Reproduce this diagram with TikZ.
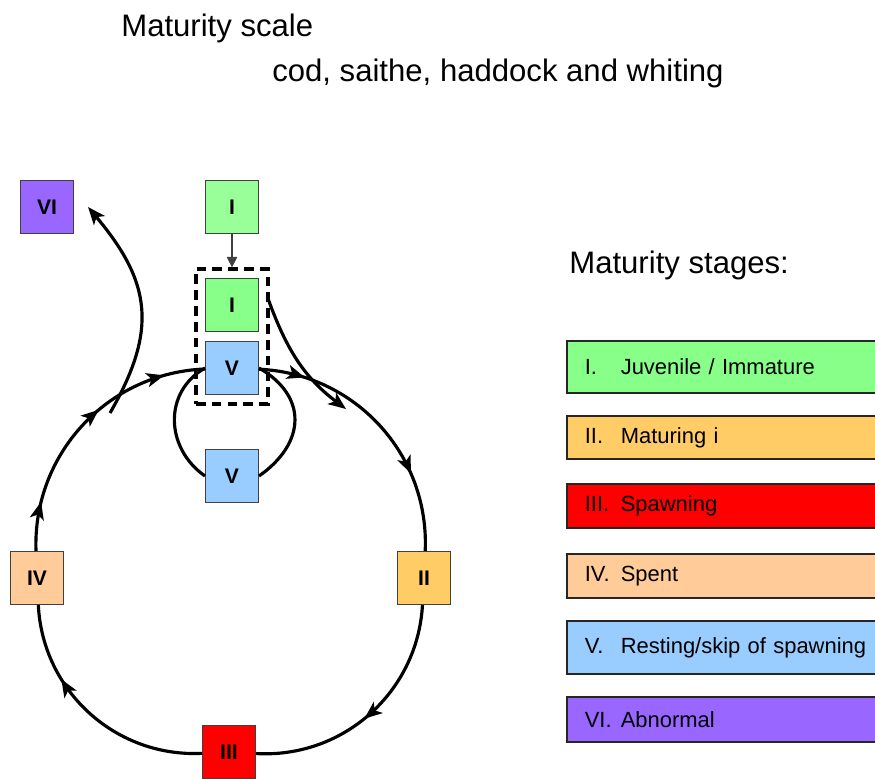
\documentclass[tikz,border=0pt]{standalone}
\usepackage{fontspec}
\setmainfont{Liberation Sans}
\usetikzlibrary{arrows.meta, decorations.markings, fit}

\definecolor{juvlight}{HTML}{99FF99}
\definecolor{juvgreen}{HTML}{88FF88}
\definecolor{restblue}{HTML}{99CCFF}
\definecolor{matorange}{HTML}{FFCC66}
\definecolor{spawnred}{HTML}{FF0000}
\definecolor{spentpeach}{HTML}{FFCC99}
\definecolor{abnpurple}{HTML}{9966FF}

\newcommand{\stagenum}[1]{\makebox[0.72cm][l]{#1}}

\begin{document}
\begin{tikzpicture}[x=0.02cm, y=0.02cm,
    stage/.style={draw=black!75, line width=0.6pt, minimum size=1.06cm, inner sep=0pt, font=\fontsize{12}{14}\selectfont\bfseries},
    legrow/.style={draw=black!85, line width=0.9pt, anchor=west, minimum height=0.88cm, text width=5.68cm, inner xsep=0.36cm, align=left, font=\fontsize{12.5}{15}\selectfont},
    heading/.style={anchor=base west, inner sep=0pt, font=\fontsize{17.7}{20}\selectfont},
    cycle/.style={line width=1.8pt},
    hd/.tip={Stealth[length=10pt, width=8pt, inset=2.5pt]},
    heads/.style={postaction={decorate, decoration={markings, mark=at position #1 with {\arrow{hd}}}}},
  ]
    \useasboundingbox (0,0) rectangle (875,-778);

    \node[heading] (ttl) at (121,-36) {Maturity scale};
    \node[heading] (sub) at (272,-81) {cod, saithe, haddock and whiting};
    \node[heading] (lgt) at (569,-273) {Maturity stages:};

    \node[stage, fill=juvlight] (Itop) at (232,-207) {I};
    \node[stage, fill=abnpurple] (VI) at (47,-207) {VI};
    \node[stage, fill=juvgreen] (Ib) at (232,-305) {I};
    \node[stage, fill=restblue] (Vt) at (232,-368) {V};
    \node[stage, fill=restblue] (Vb) at (232,-476) {V};
    \node[stage, fill=matorange] (II) at (424,-578) {II};
    \node[stage, fill=spawnred] (III) at (229,-752) {III};
    \node[stage, fill=spentpeach] (IV) at (37,-578) {IV};

    \node[draw, line width=1.8pt, dash pattern=on 5.5pt off 3.5pt, fit=(Ib)(Vt), inner sep=0.18cm] (grp) {};

    \coordinate (vibr) at (110,-413);
    \coordinate (ijoin) at (346,-409);

    \draw[black!75, line width=0.6pt, -{Triangle[length=6pt, width=6pt]}] (Itop) -- (grp);

    \draw[cycle, heads=0.17, heads=0.71] (Vt) to[bend left=45] (II);
    \draw[cycle, heads=0.53] (II) to[bend left=45] (III);
    \draw[cycle, heads=0.68] (III) to[bend left=45] (IV);
    \draw[cycle, heads=0.18, heads=0.58, heads=0.85] (IV) to[bend left=45] (Vt);

    \draw[cycle, -hd] (vibr) to[out=60, in=-50, looseness=1.2] ([xshift=0.28cm]VI.east);
    \draw[cycle, -hd] ([xshift=0.19cm, yshift=0.1cm]Ib.east) to[out=-70, in=143] (ijoin);
    \draw[cycle] (Vt.east) to[out=-30, in=35, looseness=1.35] (Vb.east);
    \draw[cycle] (Vt.west) to[out=210, in=145, looseness=1.15] (Vb.west);

    \node[legrow, fill=juvgreen, minimum height=1.04cm] (lI) at (566,-367) {\stagenum{I.}Juvenile / Immature};
    \node[legrow, fill=matorange, minimum height=0.86cm] (lII) at (566,-437.5) {\stagenum{II.}Maturing i};
    \node[legrow, fill=spawnred] (lIII) at (566,-506) {\stagenum{III.}Spawning};
    \node[legrow, fill=spentpeach] (lIV) at (566,-576) {\stagenum{IV.}Spent};
    \node[legrow, fill=restblue, minimum height=1.06cm] (lV) at (566,-647.5) {\stagenum{V.}Resting/skip of spawning};
    \node[legrow, fill=abnpurple, minimum height=0.9cm] (lVI) at (566,-719.5) {\stagenum{VI.}Abnormal};
\end{tikzpicture}
\end{document}
